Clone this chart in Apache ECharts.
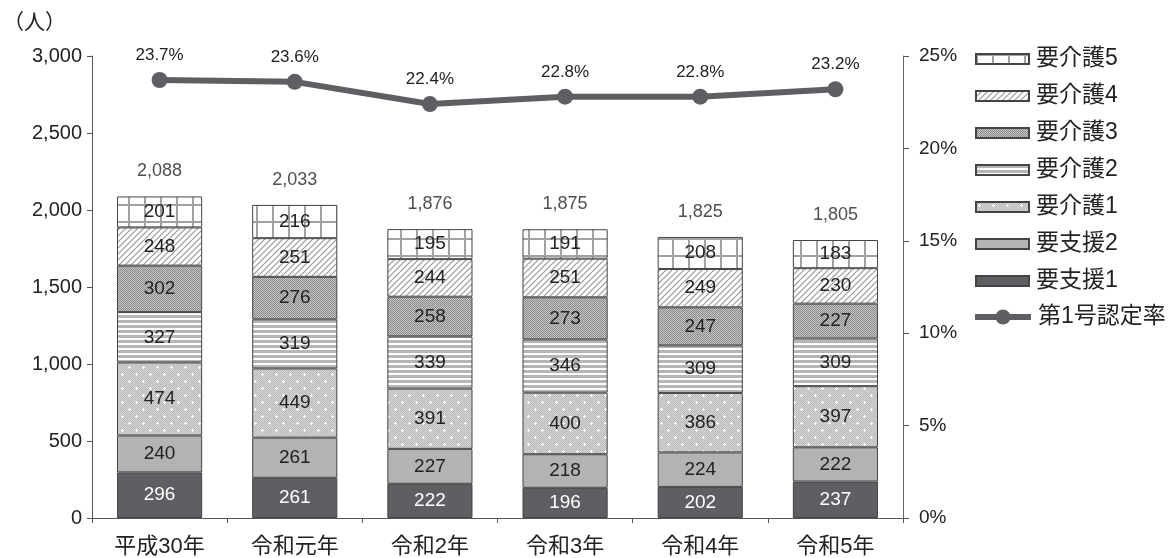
<!DOCTYPE html>
<html>
<head>
<meta charset="utf-8">
<script src="https://cdn.jsdelivr.net/npm/echarts@6/dist/echarts.min.js"></script>
<style>
  html, body { margin: 0; padding: 0; background: #fff; }
  #chart { width: 1170px; height: 558px; }
</style>
</head>
<body>
<div id="chart"></div>
<script>
// 年度別 要支援・要介護認定者数（人）と第1号認定率（%）
const categories = ['平成30年', '令和元年', '令和2年', '令和3年', '令和4年', '令和5年'];
const shien1 = [296, 261, 222, 196, 202, 237];
const shien2 = [240, 261, 227, 218, 224, 222];
const kaigo1 = [474, 449, 391, 400, 386, 397];
const kaigo2 = [327, 319, 339, 346, 309, 309];
const kaigo3 = [302, 276, 258, 273, 247, 227];
const kaigo4 = [248, 251, 244, 251, 249, 230];
const kaigo5 = [201, 216, 195, 191, 208, 183];
const rate = [23.7, 23.6, 22.4, 22.8, 22.8, 23.2];
const leftTicks = [0, 500, 1000, 1500, 2000, 2500, 3000];
const rightTicks = [0, 5, 10, 15, 20, 25];

const NUM_FONT = "'Liberation Sans', 'Noto Sans CJK JP', sans-serif";
const JP_FONT = "'Noto Sans CJK JP', sans-serif";

// --- fill patterns -------------------------------------------------------
function tile(w, h, draw) {
  const c = document.createElement('canvas');
  c.width = w; c.height = h;
  const g = c.getContext('2d');
  draw(g, w, h);
  return { image: c, repeat: 'repeat' };
}

const patGrid = tile(16, 17, (g, w, h) => {
  g.fillStyle = '#fff'; g.fillRect(0, 0, w, h);
  g.fillStyle = '#a2a2a2';
  g.fillRect(0, 0, 2, h);
  g.fillRect(0, 0, w, 2);
});

const patHatch = tile(6, 6, (g, w, h) => {
  g.fillStyle = '#fff'; g.fillRect(0, 0, w, h);
  g.strokeStyle = '#9a9a9a'; g.lineWidth = 1.2;
  g.beginPath();
  g.moveTo(-1, h + 1); g.lineTo(w + 1, -1);
  g.moveTo(-1, 1); g.lineTo(1, -1);
  g.moveTo(w - 1, h + 1); g.lineTo(w + 1, h - 1);
  g.stroke();
});

const patStipple = tile(2, 2, (g) => {
  g.fillStyle = '#c6c6c6'; g.fillRect(0, 0, 2, 2);
  g.fillStyle = '#8a8a8a'; g.fillRect(0, 0, 1, 1); g.fillRect(1, 1, 1, 1);
});

const patStripes = tile(4, 5, (g, w, h) => {
  g.fillStyle = '#fff'; g.fillRect(0, 0, w, h);
  g.fillStyle = '#b6b6b6'; g.fillRect(0, 0, w, 3);
});

const patDots = tile(14, 14, (g, w, h) => {
  for (let y = 0; y < h; y++) {
    for (let x = 0; x < w; x++) {
      g.fillStyle = (x + y) % 2 ? '#d2d2d2' : '#bdbdbd';
      g.fillRect(x, y, 1, 1);
    }
  }
  g.fillStyle = '#fff';
  [[3, 3], [10, 10]].forEach(([x, y]) => {
    g.fillRect(x - 1, y, 3, 1);
    g.fillRect(x, y - 1, 1, 3);
  });
});

// --- series --------------------------------------------------------------
function barSeries(name, data, fill, textColor) {
  return {
    name, type: 'bar', stack: 'total', data,
    barWidth: '63%',
    itemStyle: { color: fill, borderColor: '#444', borderWidth: 1 },
    label: {
      show: true, position: 'inside', color: textColor,
      fontFamily: NUM_FONT, fontSize: 19
    },
    emphasis: { disabled: true }
  };
}

const totals = categories.map((_, i) =>
  shien1[i] + shien2[i] + kaigo1[i] + kaigo2[i] + kaigo3[i] + kaigo4[i] + kaigo5[i]);

const legendText = {
  fontFamily: NUM_FONT, fontSize: 23, color: '#222',
  lineHeight: 24, padding: [0, 0, 0, 2]
};

const chart = echarts.init(document.getElementById('chart'));
chart.setOption({
  animation: false,
  backgroundColor: '#fff',
  grid: { left: 91, right: 267, top: 56, bottom: 40 },
  legend: [
    {
      orient: 'vertical', left: 975, top: 47, padding: 0,
      itemWidth: 53, itemHeight: 10, itemGap: 13, icon: 'rect',
      data: ['要介護5', '要介護4', '要介護3', '要介護2', '要介護1', '要支援2', '要支援1'],
      textStyle: legendText,
      selectedMode: false
    },
    {
      orient: 'vertical', left: 972, top: 305, padding: 0,
      itemWidth: 56, itemHeight: 19,
      data: [{ name: '第1号認定率', lineStyle: { width: 6 } }],
      textStyle: legendText,
      selectedMode: false
    }
  ],
  xAxis: {
    type: 'category', data: categories,
    axisLine: { lineStyle: { color: '#555', width: 1 } },
    axisTick: { show: true, length: 5, lineStyle: { color: '#555' } },
    axisLabel: { color: '#222', fontFamily: NUM_FONT, fontSize: 22, margin: 18 }
  },
  yAxis: [
    {
      type: 'value', min: leftTicks[0], max: leftTicks[leftTicks.length - 1], interval: 500,
      name: '（人）', nameLocation: 'end', nameGap: 24,
      nameTextStyle: { color: '#222', fontFamily: JP_FONT, fontSize: 21, align: 'right', padding: [0, 26, 0, 0] },
      axisLine: { show: true, lineStyle: { color: '#555' } },
      axisTick: { show: true, length: 5, lineStyle: { color: '#555' } },
      splitLine: { show: false },
      axisLabel: {
        color: '#222', fontFamily: NUM_FONT, fontSize: 20, margin: 10,
        formatter: v => v.toLocaleString('en-US')
      }
    },
    {
      type: 'value', min: rightTicks[0], max: rightTicks[rightTicks.length - 1], interval: 5,
      position: 'right',
      axisLine: { show: true, lineStyle: { color: '#666' } },
      axisTick: { show: true, length: 6, lineStyle: { color: '#555' } },
      splitLine: { show: false },
      axisLabel: {
        color: '#222', fontFamily: NUM_FONT, fontSize: 19, margin: 16,
        formatter: '{value}%'
      }
    }
  ],
  series: [
    barSeries('要支援1', shien1, '#5e5e63', '#fff'),
    barSeries('要支援2', shien2, '#b3b3b5', '#222'),
    barSeries('要介護1', kaigo1, patDots, '#222'),
    barSeries('要介護2', kaigo2, patStripes, '#222'),
    barSeries('要介護3', kaigo3, patStipple, '#222'),
    barSeries('要介護4', kaigo4, patHatch, '#222'),
    barSeries('要介護5', kaigo5, patGrid, '#222'),
    {
      name: '合計', type: 'scatter', data: totals,
      symbolSize: 0, silent: true,
      label: {
        show: true, position: 'top', distance: 16, color: '#222',
        fontFamily: NUM_FONT, fontSize: 18,
        formatter: p => p.value.toLocaleString('en-US')
      }
    },
    {
      name: '第1号認定率', type: 'line', yAxisIndex: 1, data: rate,
      symbol: 'circle', symbolSize: 16, z: 10,
      lineStyle: { color: '#5e5e63', width: 6 },
      itemStyle: { color: '#5e5e63' },
      label: {
        show: true, position: 'top', distance: 8, color: '#222',
        fontFamily: NUM_FONT, fontSize: 17,
        formatter: p => p.value.toFixed(1) + '%'
      },
      emphasis: { disabled: true }
    }
  ]
});
</script>
</body>
</html>
